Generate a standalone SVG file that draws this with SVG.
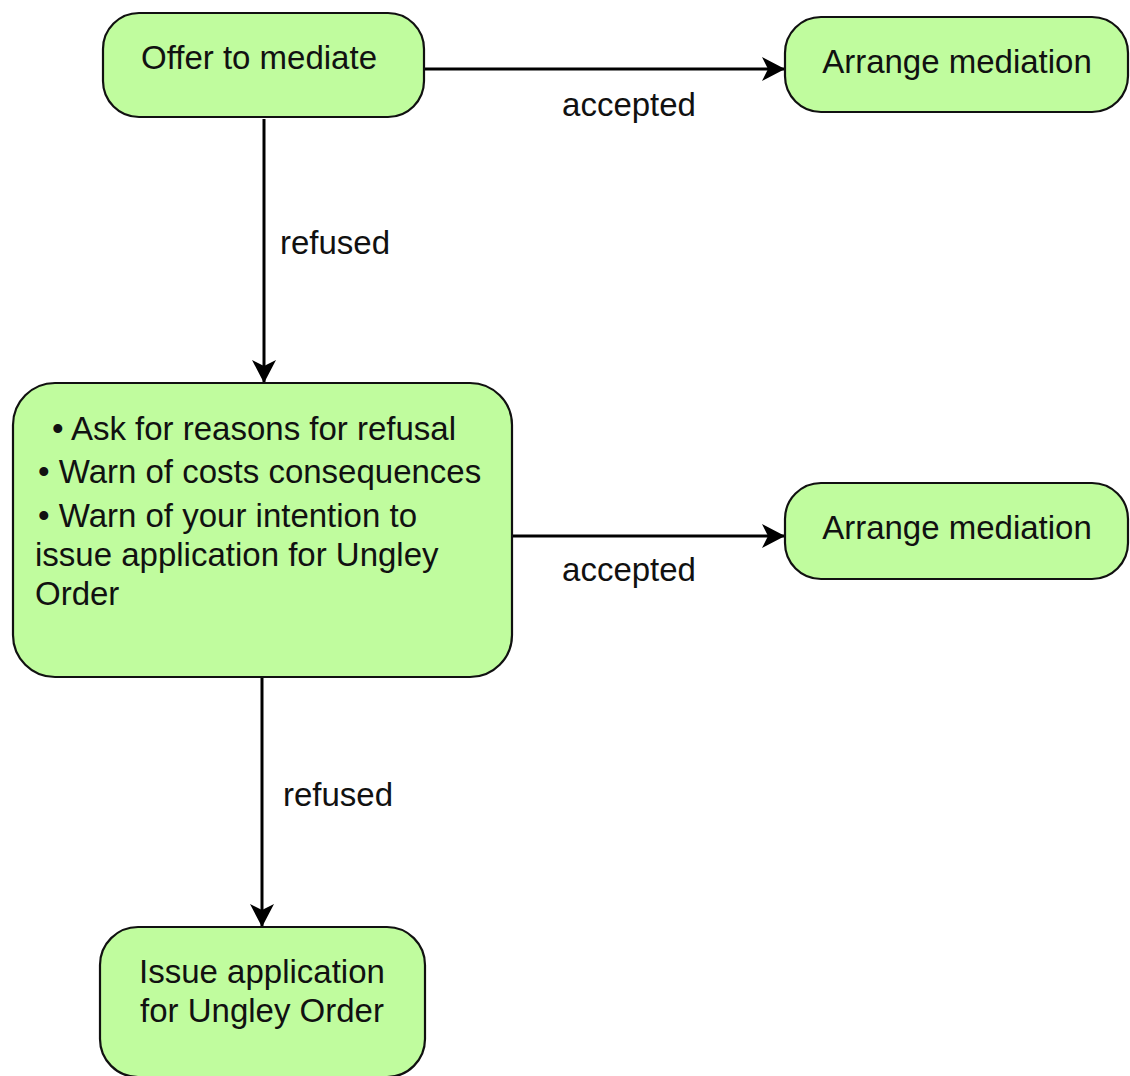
<svg xmlns="http://www.w3.org/2000/svg" width="1130" height="1076" viewBox="0 0 1130 1076">
<style>
.node{fill:#c0fc9e;stroke:#111;stroke-width:2.2}
.t{font-family:"Liberation Sans",Arial,sans-serif;font-size:33px;fill:#111}
.c{text-anchor:middle}
.edge{stroke:#000;stroke-width:3;fill:none}
</style>
<defs>
<marker id="ah" markerUnits="userSpaceOnUse" markerWidth="26" markerHeight="26" viewBox="-24 -13 26 26" refX="0" refY="0" orient="auto">
<path d="M0,0 L-23,-12 L-17,0 L-23,12 Z" fill="#000"/>
</marker>
</defs>
<rect width="1130" height="1076" fill="#fff"/>
<g id="connectors">
<line class="edge" x1="425" y1="69" x2="785" y2="69" marker-end="url(#ah)"/>
<text class="t c" x="629" y="116">accepted</text>
<line class="edge" x1="264" y1="119" x2="264" y2="383" marker-end="url(#ah)"/>
<text class="t" x="280" y="254">refused</text>
<line class="edge" x1="512" y1="536" x2="785" y2="536" marker-end="url(#ah)"/>
<text class="t c" x="629" y="581">accepted</text>
<line class="edge" x1="262" y1="677" x2="262" y2="927" marker-end="url(#ah)"/>
<text class="t" x="283" y="806">refused</text>
</g>
<g id="offer">
<rect class="node" x="103" y="13" width="321" height="104" rx="36"/>
<text class="t c" x="259" y="69">Offer to mediate</text>
</g>
<g id="arrange1">
<rect class="node" x="785" y="17" width="343" height="95" rx="36"/>
<text class="t c" x="957" y="73">Arrange mediation</text>
</g>
<g id="warn">
<rect class="node" x="13" y="383" width="499" height="294" rx="42"/>
<text class="t" x="52" y="440">• Ask for reasons for refusal</text>
<text class="t" x="38" y="483">• Warn of costs consequences</text>
<text class="t" x="38" y="527">• Warn of your intention to</text>
<text class="t" x="35" y="566">issue application for Ungley</text>
<text class="t" x="35" y="605">Order</text>
</g>
<g id="arrange2">
<rect class="node" x="785" y="483" width="343" height="96" rx="36"/>
<text class="t c" x="957" y="539">Arrange mediation</text>
</g>
<g id="issue">
<rect class="node" x="100" y="927" width="325" height="150" rx="38"/>
<text class="t c" x="262" y="983">Issue application</text>
<text class="t c" x="262" y="1022">for Ungley Order</text>
</g>
</svg>
